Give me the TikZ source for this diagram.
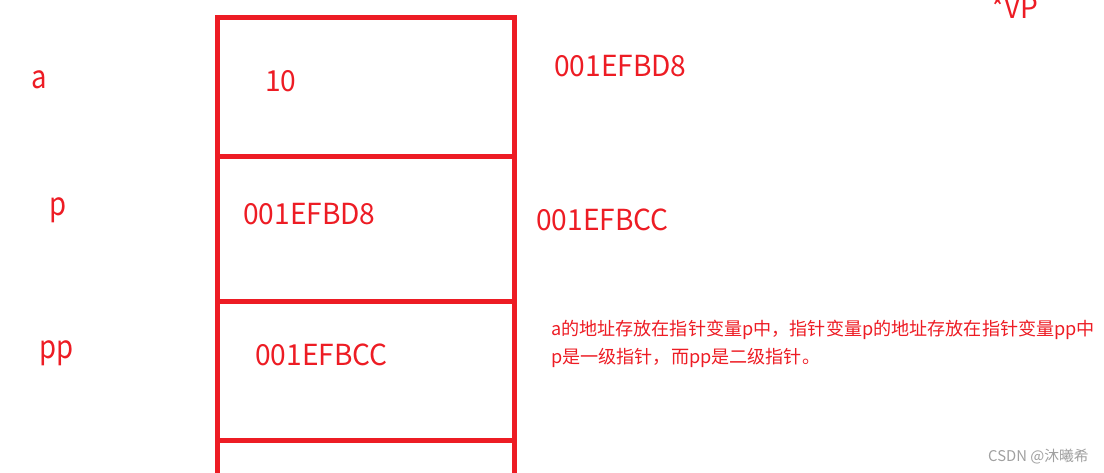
\documentclass[tikz,border=0pt]{standalone}
\usepackage{fontspec}
\setmainfont{Noto Sans CJK SC}
\newfontfamily\labfont[FakeStretch=0.97]{Noto Sans CJK SC}
\newfontfamily\varfont[FakeStretch=0.86]{Noto Sans CJK SC}
\newfontfamily\cjkfont{Noto Sans CJK SC}
\definecolor{memred}{HTML}{ED1C24}
\definecolor{wmgray}{HTML}{A0A0A0}
\tikzset{
  frame/.style={draw=memred, line width=5pt},
  biglab/.style={text=memred, inner sep=0pt, anchor=base west, font=\labfont\fontsize{29}{32}\selectfont},
  varlab/.style={text=memred, inner sep=0pt, anchor=base west, font=\varfont\fontsize{32}{36}\selectfont},
  note/.style={text=memred, inner sep=0pt, anchor=base west, font=\cjkfont\fontsize{18.1}{20}\selectfont}
}
\begin{document}
\begin{tikzpicture}[x=1pt,y=-1pt]
\useasboundingbox (0,0) rectangle (1104,473);
% memory column
\draw[frame] (217.5,473) -- (217.5,17.5) -- (514.5,17.5) -- (514.5,473);
\draw[frame] (217.5,156.5) -- (514.5,156.5);
\draw[frame] (217.5,302) -- (514.5,302);
\draw[frame] (217.5,440.5) -- (514.5,440.5);
% cell contents
\node[biglab] (v1) at (265,92) {10};
\node[biglab] (v2) at (243,225) {001EFBD8};
\node[biglab] (v3) at (255,366) {001EFBCC};
% variable names
\node[varlab] (na) at (31,89) {a};
\node[varlab] (np) at (49,216) {p};
\node[varlab] (npp) at (39,359) {pp};
% addresses
\node[biglab] (ad1) at (554,77) {001EFBD8};
\node[biglab] (ad2) at (536,231) {001EFBCC};
\node[biglab] (vp) at (991,19) {*VP};
% note
\node[note] (n1) at (551,335) {a的地址存放在指针变量p中，指针变量p的地址存放在指针变量pp中};
\node[note] (n2) at (551,363.5) {p是一级指针，而pp是二级指针。};
% watermark
\node[text=wmgray, inner sep=0pt, anchor=base west, font=\cjkfont\fontsize{14.8}{16}\selectfont] (wm) at (988,461.5) {CSDN @沐曦希};
\end{tikzpicture}
\end{document}
